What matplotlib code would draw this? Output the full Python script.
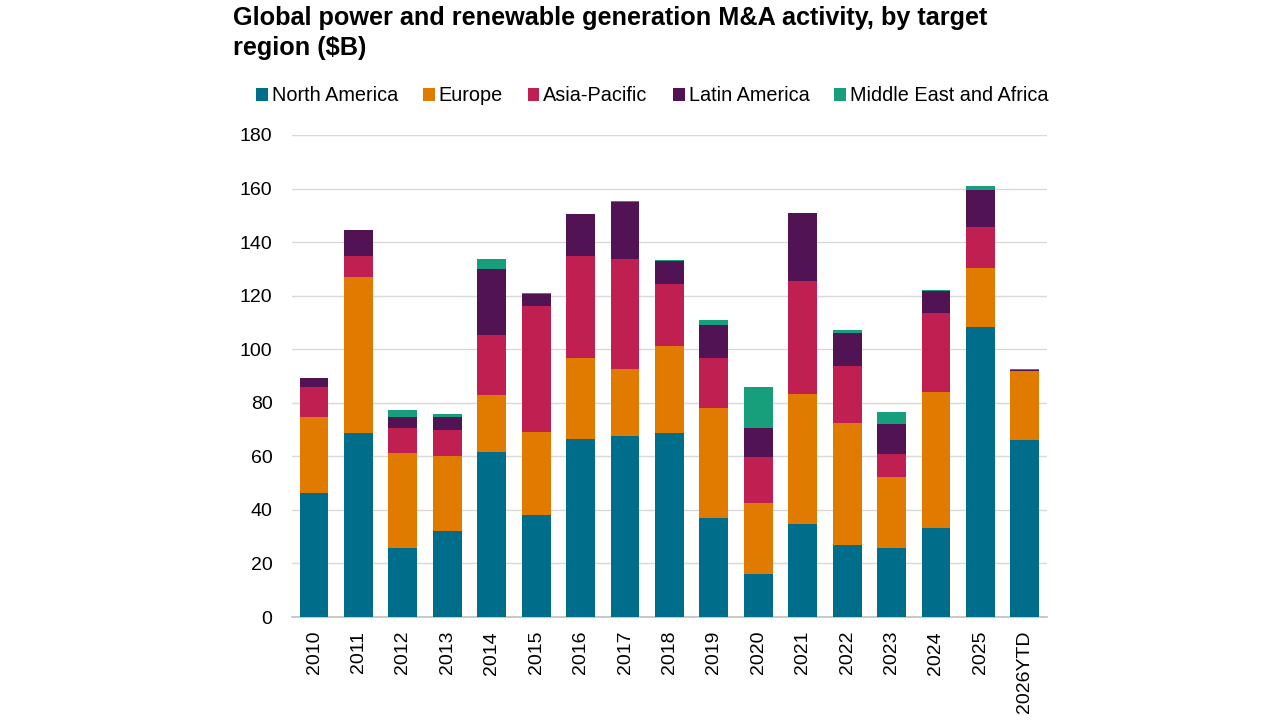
import numpy as np
import matplotlib.pyplot as plt

plt.rcParams['font.family'] = ['Liberation Sans', 'DejaVu Sans']

# データ（$B）
years = ['2010', '2011', '2012', '2013', '2014', '2015', '2016', '2017', '2018',
         '2019', '2020', '2021', '2022', '2023', '2024', '2025', '2026YTD']
north_america = [46.4, 68.6, 25.8, 32.2, 61.7, 38.2, 66.5, 67.7, 68.6,
                 37.1, 15.9, 34.6, 27.0, 25.8, 33.1, 108.3, 66.2]
europe = [28.2, 58.2, 35.4, 27.8, 21.1, 30.9, 30.3, 24.8, 32.6,
          40.8, 26.7, 48.6, 45.4, 26.5, 50.9, 21.9, 25.7]
asia_pacific = [11.4, 8.0, 9.3, 9.8, 22.5, 47.1, 38.1, 41.2, 23.0,
                18.7, 17.0, 42.4, 21.4, 8.6, 29.5, 15.3, 0.0]
latin_america = [3.4, 9.7, 4.3, 4.8, 24.6, 4.4, 15.6, 21.4, 8.9,
                 12.3, 11.0, 25.4, 12.2, 11.2, 8.3, 13.9, 0.4]
mea = [0.0, 0.0, 2.4, 1.2, 3.7, 0.3, 0.0, 0.3, 0.3,
       2.0, 15.4, 0.0, 1.0, 4.6, 0.3, 1.5, 0.4]

series = [
    ('North America', north_america, '#006d8a'),
    ('Europe', europe, '#e07b00'),
    ('Asia-Pacific', asia_pacific, '#c01f52'),
    ('Latin America', latin_america, '#521354'),
    ('Middle East and Africa', mea, '#179e7a'),
]

fig = plt.figure(figsize=(12.8, 7.2), dpi=100)
ax = fig.add_axes([0.228, 0.143, 0.59, 0.6695])

x = np.arange(len(years))
bottom = np.zeros(len(years))
for name, vals, color in series:
    ax.bar(x, vals, width=0.65, bottom=bottom, color=color, label=name, zorder=3)
    bottom += np.array(vals)

ax.set_xlim(-0.5, len(years) - 0.5)
ax.set_ylim(0, 180)
ax.set_yticks(range(0, 181, 20))
ax.set_xticks(x)
ax.set_xticklabels(years, rotation=90)
ax.tick_params(axis='both', length=0, labelsize=14, colors='black')
ax.tick_params(axis='y', pad=14)
ax.tick_params(axis='x', pad=10)
ax.grid(axis='y', color='#d9d9d9', linewidth=1, zorder=0)
for s in ['top', 'right', 'left']:
    ax.spines[s].set_visible(False)
ax.spines['bottom'].set_color('#bfbfbf')
ax.spines['bottom'].set_linewidth(1.2)

# タイトル
fig.text(0.182, 0.992, 'Global power and renewable generation M&A activity, by target\nregion ($B)',
         ha='left', va='top', fontsize=18.2, fontweight='bold', linespacing=1.35)

# 凡例
ax.legend(loc='lower center', bbox_to_anchor=(0.477, 1.045), ncol=5, frameon=False,
          fontsize=14.3, handlelength=0.6, handleheight=0.6, handletextpad=0.2,
          columnspacing=1.25, borderaxespad=0)

plt.savefig('out.png')
